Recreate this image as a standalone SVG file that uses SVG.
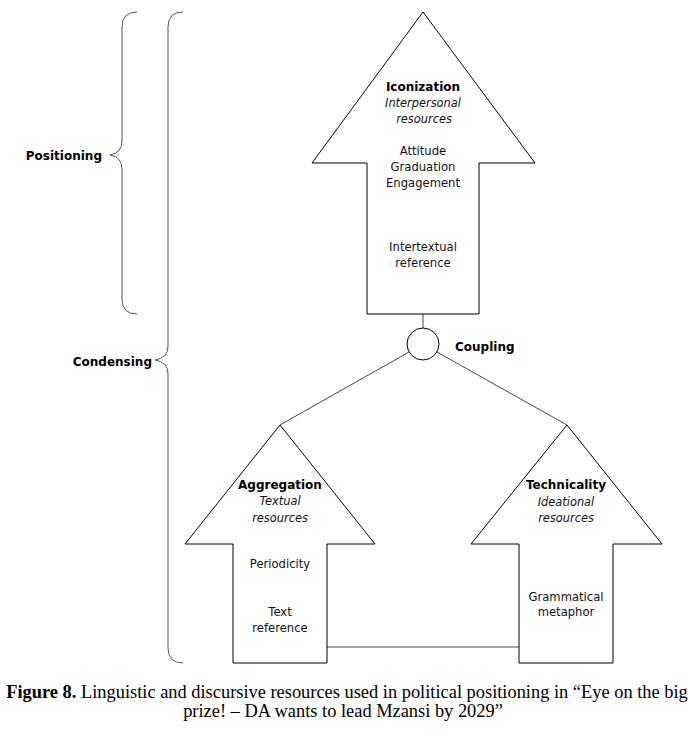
<svg xmlns="http://www.w3.org/2000/svg" width="690" height="739" viewBox="0 0 690 739">
<style>
.arrow{fill:#fff;stroke:#000;stroke-width:1}
.brace{fill:none;stroke:#555;stroke-width:1}
.conn{fill:none;stroke:#444;stroke-width:1}
.t{font-family:"DejaVu Sans",Verdana,sans-serif;font-size:11.6px;fill:#111;text-anchor:middle}
.b{font-family:"DejaVu Sans",Verdana,sans-serif;font-size:12px;font-weight:bold;fill:#000}
.i{font-style:italic;font-size:11.4px}
.cap{font-family:"Liberation Serif","Times New Roman",serif;font-size:18.4px;fill:#000;text-anchor:middle}
</style>
<rect width="690" height="739" fill="#fff"/>
<g id="connectors">
<line class="conn" x1="423" y1="314" x2="423" y2="328"/>
<line class="conn" x1="409" y1="352" x2="280" y2="425"/>
<line class="conn" x1="437" y1="352" x2="567" y2="425"/>
<line class="conn" x1="327" y1="647" x2="519" y2="647" stroke="#666"/>
</g>
<g id="brace-positioning">
<path class="brace" d="M137,12 Q122,12 122,27 L122,141 Q122,153 110,155 Q122,157 122,169 L122,299 Q122,314 137,314"/>
<text class="b" x="102" y="159.5" text-anchor="end" font-size="11.8">Positioning</text>
</g>
<g id="brace-condensing">
<path class="brace" d="M183,12 Q168,12 168,27 L168,346 Q168,358 155,360 Q168,362 168,374 L168,648 Q168,663 183,663"/>
<text class="b" x="152" y="366" text-anchor="end" font-size="11.7">Condensing</text>
</g>
<g id="iconization">
<path class="arrow" d="M423,12 L535,163 L479,163 L479,314 L367,314 L367,163 L312,163 Z"/>
<text class="b" x="423" y="91" text-anchor="middle">Iconization</text>
<text class="t i" x="423" y="107">Interpersonal</text>
<text class="t i" x="424" y="123">resources</text>
<text class="t" x="423" y="155">Attitude</text>
<text class="t" x="423" y="171">Graduation</text>
<text class="t" x="423" y="187">Engagement</text>
<text class="t" x="423" y="251">Intertextual</text>
<text class="t" x="423" y="267">reference</text>
</g>
<g id="coupling">
<circle cx="423" cy="344" r="16" fill="#fff" stroke="#000" stroke-width="1"/>
<text class="b" x="455" y="351">Coupling</text>
</g>
<g id="aggregation">
<path class="arrow" d="M280,425 L375,544 L327,544 L327,663 L233,663 L233,544 L185,544 Z"/>
<text class="b" x="280" y="489" text-anchor="middle">Aggregation</text>
<text class="t i" x="280" y="505">Textual</text>
<text class="t i" x="280" y="522">resources</text>
<text class="t" x="280" y="568">Periodicity</text>
<text class="t" x="280" y="616">Text</text>
<text class="t" x="280" y="632">reference</text>
</g>
<g id="technicality">
<path class="arrow" d="M567,425 L662,544 L613,544 L613,663 L519,663 L519,544 L471,544 Z"/>
<text class="b" x="566" y="489" text-anchor="middle">Technicality</text>
<text class="t i" x="566" y="506">Ideational</text>
<text class="t i" x="566" y="522">resources</text>
<text class="t" x="566" y="601">Grammatical</text>
<text class="t" x="566" y="616">metaphor</text>
</g>
<g id="caption">
<text class="cap" x="347" y="698"><tspan font-weight="bold">Figure 8.</tspan> Linguistic and discursive resources used in political positioning in “Eye on the big</text>
<text class="cap" x="343" y="717">prize! – DA wants to lead Mzansi by 2029”</text>
</g>
</svg>
